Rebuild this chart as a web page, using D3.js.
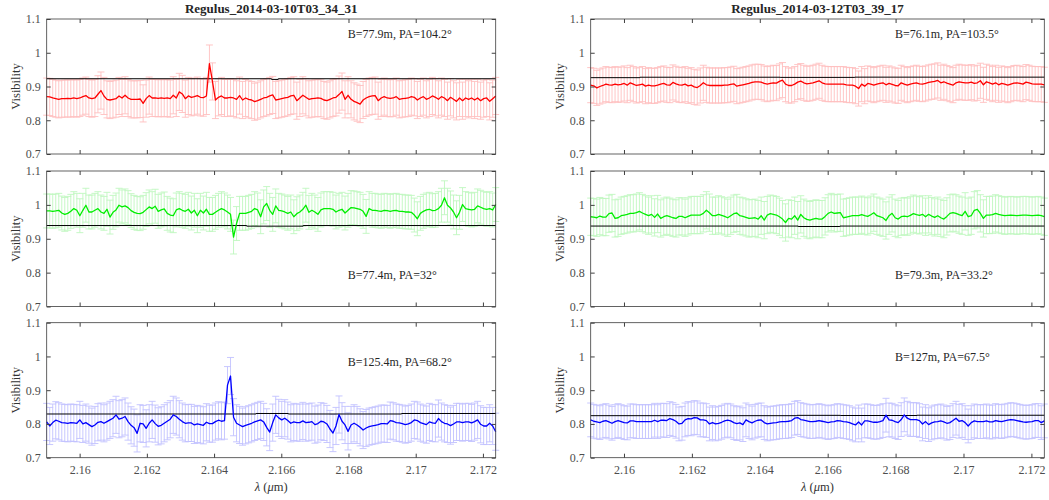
<!DOCTYPE html>
<html lang="en">
<head>
<meta charset="UTF-8">
<title>Regulus visibilities</title>
<script src="https://d3js.org/d3.v7.min.js"></script>
<style>
  html, body { margin: 0; padding: 0; background: #fff; }
  svg text { font-family: "Liberation Serif", "Times New Roman", serif; }
  .tick line { stroke: #404040; }
</style>
</head>
<body>
<svg id="chart" width="1049" height="500"></svg>
<script>
// spectral channels (uniform grid)
const lambdaMin = 2.15902, lambdaMax = 2.17238, channelCount = 150;
const wavelengths = d3.range(channelCount).map(i => lambdaMin + i * (lambdaMax - lambdaMin) / (channelCount - 1));

const xTicks = [2.16, 2.162, 2.164, 2.166, 2.168, 2.17, 2.172];
const xTickLabels = ["2.16", "2.162", "2.164", "2.166", "2.168", "2.17", "2.172"];
const yTicks = [0.7, 0.8, 0.9, 1, 1.1];
const yTickLabels = ["0.7", "0.8", "0.9", "1", "1.1"];

const titles = ["Regulus_2014-03-10T03_34_31", "Regulus_2014-03-12T03_39_17"];
const baselineLabels = ["B=77.9m, PA=104.2°", "B=77.4m, PA=32°", "B=125.4m, PA=68.2°",
                        "B=76.1m, PA=103.5°", "B=79.3m, PA=33.2°", "B=127m, PA=67.5°"];

// night 1 (left column)
const visTL = [0.870,0.869,0.866,0.864,0.862,0.864,0.864,0.865,0.864,0.866,
  0.864,0.866,0.870,0.873,0.866,0.864,0.866,0.877,0.888,0.872,
  0.862,0.860,0.862,0.864,0.872,0.866,0.874,0.866,0.862,0.862,
  0.862,0.863,0.850,0.864,0.873,0.866,0.866,0.865,0.866,0.865,
  0.866,0.864,0.874,0.866,0.884,0.878,0.864,0.872,0.868,0.870,
  0.873,0.868,0.867,0.872,0.968,0.915,0.860,0.868,0.872,0.866,
  0.866,0.868,0.866,0.862,0.873,0.860,0.866,0.862,0.860,0.855,
  0.858,0.862,0.866,0.868,0.872,0.875,0.860,0.862,0.864,0.866,
  0.868,0.872,0.874,0.858,0.866,0.874,0.868,0.862,0.864,0.865,
  0.866,0.865,0.860,0.858,0.862,0.866,0.868,0.876,0.885,0.862,
  0.874,0.862,0.856,0.852,0.848,0.860,0.866,0.870,0.872,0.873,
  0.858,0.866,0.870,0.866,0.865,0.866,0.870,0.862,0.864,0.865,
  0.866,0.870,0.868,0.860,0.866,0.870,0.862,0.866,0.872,0.868,
  0.862,0.870,0.866,0.858,0.868,0.862,0.856,0.866,0.858,0.866,
  0.862,0.866,0.860,0.866,0.858,0.864,0.866,0.856,0.864,0.872];
const visML = [0.982,0.982,0.981,0.982,0.984,0.976,0.972,0.975,0.981,0.989,
  0.984,0.968,0.984,0.999,0.979,0.979,0.984,0.989,0.979,0.975,
  0.987,0.964,0.978,0.985,0.999,0.994,0.997,0.992,0.983,0.978,
  0.975,0.974,0.978,0.986,0.994,0.989,0.996,0.981,0.985,0.988,
  0.975,0.970,0.968,0.985,0.989,0.984,0.981,0.987,0.976,0.984,
  0.968,0.984,0.976,0.987,0.972,0.972,0.978,0.984,0.989,0.985,
  0.979,0.972,0.905,0.945,0.975,0.975,0.975,0.978,0.981,0.989,
  0.985,0.965,0.994,1.004,0.984,0.972,0.997,0.984,0.982,0.979,
  0.975,0.979,0.965,0.974,0.979,0.987,0.999,0.978,0.984,0.979,
  0.972,0.985,0.989,0.989,0.989,0.987,0.979,0.984,0.987,0.976,
  0.984,0.992,0.991,0.989,0.987,0.981,0.966,0.989,0.984,0.984,
  0.982,0.981,0.984,0.983,0.981,0.983,0.984,0.981,0.981,0.979,
  0.979,0.978,0.970,0.959,0.975,0.981,0.985,0.987,0.983,0.984,
  0.989,0.999,1.021,0.999,0.991,0.979,0.962,0.978,1.001,0.989,
  0.987,0.985,0.987,0.997,0.993,0.989,0.987,0.989,0.985,1.001];
const visBL = [0.806,0.794,0.804,0.811,0.808,0.804,0.803,0.802,0.804,0.803,
  0.802,0.812,0.800,0.804,0.798,0.792,0.797,0.805,0.807,0.802,
  0.807,0.812,0.817,0.827,0.814,0.817,0.822,0.807,0.796,0.789,
  0.772,0.802,0.800,0.787,0.802,0.812,0.801,0.793,0.796,0.802,
  0.808,0.814,0.827,0.822,0.814,0.807,0.802,0.803,0.803,0.797,
  0.800,0.798,0.796,0.805,0.801,0.801,0.807,0.811,0.808,0.810,
  0.915,0.942,0.820,0.802,0.797,0.792,0.796,0.799,0.802,0.806,
  0.809,0.812,0.806,0.790,0.776,0.804,0.827,0.818,0.812,0.817,
  0.810,0.802,0.806,0.804,0.804,0.809,0.804,0.805,0.807,0.798,
  0.801,0.808,0.806,0.800,0.785,0.773,0.794,0.828,0.808,0.797,
  0.778,0.797,0.802,0.797,0.790,0.782,0.788,0.792,0.794,0.796,
  0.798,0.801,0.801,0.800,0.810,0.808,0.804,0.803,0.801,0.798,
  0.800,0.804,0.812,0.810,0.804,0.801,0.798,0.806,0.803,0.802,
  0.816,0.807,0.802,0.800,0.795,0.800,0.806,0.806,0.804,0.806,
  0.806,0.803,0.807,0.812,0.799,0.794,0.794,0.802,0.794,0.777];

// night 2 (right column)
const visTR = [0.904,0.902,0.896,0.900,0.903,0.907,0.905,0.904,0.907,0.905,
  0.906,0.909,0.904,0.911,0.907,0.903,0.905,0.907,0.901,0.904,
  0.902,0.902,0.904,0.907,0.909,0.905,0.904,0.912,0.908,0.905,
  0.904,0.907,0.902,0.904,0.899,0.897,0.903,0.911,0.905,0.903,
  0.903,0.903,0.903,0.903,0.904,0.904,0.906,0.908,0.901,0.903,
  0.905,0.907,0.909,0.912,0.914,0.914,0.913,0.909,0.907,0.909,
  0.911,0.910,0.915,0.919,0.907,0.903,0.903,0.907,0.913,0.916,
  0.911,0.908,0.909,0.911,0.914,0.917,0.911,0.908,0.907,0.907,
  0.907,0.907,0.907,0.907,0.905,0.904,0.904,0.901,0.894,0.907,
  0.901,0.909,0.907,0.904,0.907,0.909,0.911,0.905,0.909,0.906,
  0.903,0.902,0.911,0.907,0.904,0.907,0.909,0.911,0.908,0.907,
  0.909,0.912,0.914,0.915,0.918,0.911,0.914,0.910,0.907,0.904,
  0.911,0.914,0.912,0.911,0.911,0.913,0.909,0.911,0.917,0.905,
  0.914,0.911,0.907,0.911,0.905,0.909,0.907,0.904,0.907,0.910,
  0.911,0.909,0.907,0.913,0.911,0.908,0.907,0.907,0.907,0.905];
const visMR = [0.965,0.964,0.962,0.967,0.964,0.964,0.974,0.976,0.960,0.962,
  0.968,0.970,0.972,0.975,0.975,0.977,0.981,0.976,0.972,0.968,
  0.972,0.963,0.973,0.960,0.965,0.968,0.965,0.962,0.960,0.966,
  0.966,0.962,0.966,0.970,0.970,0.970,0.970,0.975,0.984,0.977,
  0.968,0.968,0.972,0.969,0.966,0.962,0.968,0.974,0.976,0.968,
  0.966,0.963,0.960,0.961,0.962,0.958,0.968,0.955,0.970,0.974,
  0.972,0.970,0.965,0.958,0.948,0.960,0.958,0.968,0.955,0.972,
  0.962,0.957,0.955,0.958,0.960,0.958,0.958,0.966,0.975,0.979,
  0.975,0.976,0.977,0.962,0.964,0.966,0.968,0.968,0.968,0.971,
  0.968,0.966,0.971,0.977,0.968,0.965,0.962,0.954,0.968,0.975,
  0.962,0.958,0.965,0.967,0.965,0.969,0.974,0.971,0.969,0.972,
  0.965,0.972,0.967,0.963,0.968,0.962,0.958,0.966,0.975,0.977,
  0.975,0.971,0.968,0.981,0.965,0.968,0.984,0.987,0.975,0.960,
  0.970,0.970,0.971,0.975,0.972,0.970,0.968,0.969,0.970,0.969,
  0.968,0.969,0.970,0.970,0.969,0.968,0.969,0.970,0.968,0.965];
const visBR = [0.812,0.808,0.806,0.804,0.808,0.810,0.806,0.802,0.807,0.810,
  0.807,0.804,0.803,0.809,0.809,0.807,0.807,0.807,0.807,0.807,
  0.807,0.811,0.807,0.811,0.811,0.810,0.816,0.813,0.808,0.800,
  0.802,0.812,0.816,0.815,0.819,0.818,0.812,0.812,0.810,0.800,
  0.804,0.800,0.802,0.805,0.809,0.811,0.809,0.804,0.801,0.803,
  0.798,0.812,0.807,0.803,0.808,0.811,0.812,0.804,0.800,0.802,
  0.803,0.804,0.806,0.807,0.807,0.808,0.810,0.817,0.819,0.813,
  0.811,0.809,0.807,0.807,0.808,0.810,0.808,0.806,0.804,0.806,
  0.807,0.810,0.809,0.807,0.806,0.804,0.800,0.797,0.806,0.797,
  0.809,0.809,0.807,0.805,0.805,0.807,0.810,0.826,0.812,0.811,
  0.807,0.804,0.813,0.827,0.817,0.813,0.813,0.813,0.810,0.800,
  0.807,0.798,0.803,0.806,0.807,0.809,0.806,0.802,0.804,0.810,
  0.817,0.808,0.810,0.804,0.794,0.804,0.809,0.807,0.807,0.807,
  0.809,0.806,0.806,0.810,0.808,0.807,0.809,0.811,0.813,0.812,
  0.810,0.808,0.806,0.805,0.806,0.807,0.810,0.810,0.804,0.809];

// typical 1-sigma error per series
const errTL = 0.055, errML = 0.05, errBL = 0.055;
const errTR = 0.052, errMR = 0.055, errBR = 0.05;

// model visibility, stepwise: [start wavelength, value]
const modelTL = [[2.15902, 0.923], [2.16571, 0.921], [2.16591, 0.923]];
const modelML = [[2.15902, 0.939], [2.16497, 0.9372], [2.16665, 0.939]];
const modelBL = [[2.15902, 0.8295], [2.16525, 0.831], [2.16621, 0.8295], [2.16958, 0.831]];
const modelTR = [[2.15902, 0.9262], [2.16047, 0.9275], [2.1646, 0.927], [2.1668, 0.9277]];
const modelMR = [[2.15902, 0.9375], [2.16513, 0.9362], [2.16636, 0.9375]];
const modelBR = [[2.15902, 0.8245], [2.16509, 0.8255], [2.16637, 0.825], [2.16863, 0.8258]];

const FONT = '"Liberation Serif", "Times New Roman", serif';
const svg = d3.select("#chart").attr("font-family", FONT);
const cols = [{x0: 46.7, x1: 495.7}, {x0: 590.7, x1: 1044.3}];
const rows = [{y0: 19, y1: 154}, {y0: 171, y1: 306.5}, {y0: 322.7, y1: 457.7}];
const lineColors = ["#ff0000", "#00ee00", "#0000ff"];
const barColors = ["#ffbfbf", "#bff7bf", "#c2c2ff"];

const panels = [
  {col: 0, row: 0, vis: visTL, err: errTL, model: modelTL, label: baselineLabels[0], labelV: 1.055},
  {col: 0, row: 1, vis: visML, err: errML, model: modelML, label: baselineLabels[1], labelV: 0.794},
  {col: 0, row: 2, vis: visBL, err: errBL, model: modelBL, label: baselineLabels[2], labelV: 0.983},
  {col: 1, row: 0, vis: visTR, err: errTR, model: modelTR, label: baselineLabels[3], labelV: 1.055},
  {col: 1, row: 1, vis: visMR, err: errMR, model: modelMR, label: baselineLabels[4], labelV: 0.795},
  {col: 1, row: 2, vis: visBR, err: errBR, model: modelBR, label: baselineLabels[5], labelV: 0.999}
];

function styleAxis(a) {
  a.attr("font-family", FONT).attr("font-size", 12);
  a.select(".domain").remove();
  a.selectAll(".tick text").attr("fill", "#4d4d4d");
}

panels.forEach(p => {
  const c = cols[p.col], r = rows[p.row];
  const x = d3.scaleLinear().domain([lambdaMin, lambdaMax]).range([c.x0, c.x1]);
  const y = d3.scaleLinear().domain([0.7, 1.1]).range([r.y1, r.y0]);
  const g = svg.append("g");
  const pts = p.vis.map((v, i) => ({l: wavelengths[i], v: v, e: p.err}));

  // error bars
  const cap = 3.5;
  g.append("g")
    .selectAll("path")
    .data(pts)
    .join("path")
      .attr("d", d => {
        const px = x(d.l), lo = y(d.v - d.e), hi = y(d.v + d.e);
        return `M${px},${lo}V${hi}M${px - cap},${lo}H${px + cap}M${px - cap},${hi}H${px + cap}`;
      })
      .attr("fill", "none")
      .attr("stroke", barColors[p.row])
      .attr("stroke-width", 0.9);

  // model line
  const steps = p.model.concat([[lambdaMax, p.model[p.model.length - 1][1]]]);
  g.append("path")
    .datum(steps)
    .attr("d", d3.line().x(d => x(d[0])).y(d => y(d[1])).curve(d3.curveStepAfter))
    .attr("fill", "none")
    .attr("stroke", "#000")
    .attr("stroke-width", 1);

  // measured visibility
  g.append("path")
    .datum(pts)
    .attr("d", d3.line().x(d => x(d.l)).y(d => y(d.v)))
    .attr("fill", "none")
    .attr("stroke", lineColors[p.row])
    .attr("stroke-width", 1.3)
    .attr("stroke-linejoin", "round");

  // axes, ticks pointing inward
  g.append("g").attr("transform", `translate(${c.x0},0)`)
    .call(d3.axisLeft(y).tickValues(yTicks).tickFormat((d, i) => yTickLabels[i]).tickSize(-4).tickPadding(6))
    .call(styleAxis);
  g.append("g").attr("transform", `translate(${c.x1},0)`)
    .call(d3.axisRight(y).tickValues(yTicks).tickFormat("").tickSize(-4))
    .call(styleAxis);
  g.append("g").attr("transform", `translate(0,${r.y0})`)
    .call(d3.axisTop(x).tickValues(xTicks).tickFormat("").tickSize(-4))
    .call(styleAxis);
  g.append("g").attr("transform", `translate(0,${r.y1})`)
    .call(d3.axisBottom(x).tickValues(xTicks)
      .tickFormat((d, i) => p.row === 2 ? xTickLabels[i] : "").tickSize(-4).tickPadding(8))
    .call(styleAxis);

  g.append("rect")
    .attr("x", c.x0).attr("y", r.y0)
    .attr("width", c.x1 - c.x0).attr("height", r.y1 - r.y0)
    .attr("fill", "none")
    .attr("stroke", "#3c3c3c")
    .attr("stroke-width", 0.8);

  g.append("text")
    .attr("transform", `translate(${c.x0 - 31},${(r.y0 + r.y1) / 2}) rotate(-90)`)
    .attr("text-anchor", "middle")
    .attr("dy", "0.35em")
    .attr("font-size", 12.5)
    .attr("fill", "#333")
    .text("Visibility");

  g.append("text")
    .attr("x", x(2.16798))
    .attr("y", y(p.labelV))
    .attr("dy", "0.35em")
    .attr("font-size", 12)
    .attr("fill", "#262626")
    .text(p.label);

  if (p.row === 0) {
    g.append("text")
      .attr("x", (c.x0 + c.x1) / 2)
      .attr("y", 13)
      .attr("text-anchor", "middle")
      .attr("font-size", 13)
      .attr("font-weight", "bold")
      .attr("fill", "#262626")
      .text(titles[p.col]);
  }
  if (p.row === 2) {
    const t = g.append("text")
      .attr("x", (c.x0 + c.x1) / 2)
      .attr("y", 491)
      .attr("text-anchor", "middle")
      .attr("font-size", 12.5)
      .attr("fill", "#333");
    t.append("tspan").attr("font-style", "italic").text("λ");
    t.append("tspan").text(" (");
    t.append("tspan").attr("font-style", "italic").text("μ");
    t.append("tspan").text("m)");
  }
});
</script>
</body>
</html>
